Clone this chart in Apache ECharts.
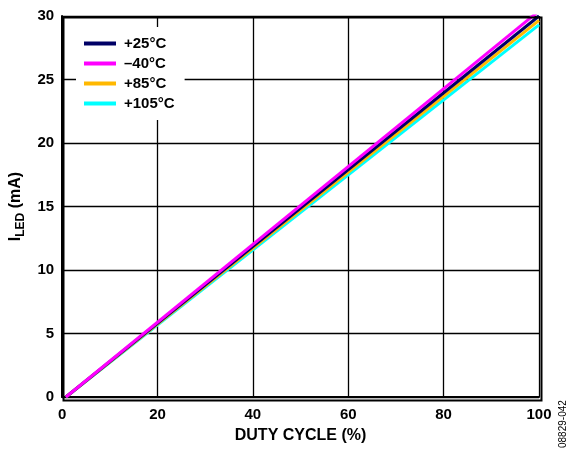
<!DOCTYPE html>
<html>
<head>
<meta charset="utf-8">
<script src="https://cdn.jsdelivr.net/npm/echarts@6/dist/echarts.min.js"></script>
<style>html,body{margin:0;padding:0;background:#fff}#c{width:569px;height:449px}</style>
</head>
<body>
<div id="c"></div>
<script>
var seriesNames = ['+105°C', '+85°C', '+25°C', '–40°C'];
var seriesColors = ['#00FFFF', '#FFB800', '#000066', '#FF00FF'];
var legendOrder = ['+25°C', '–40°C', '+85°C', '+105°C'];
var dutyCycle = [0.8, 100];
var iled105 = [0, 29.3];
var iled85 = [0, 29.65];
var iled25 = [0, 30.0];
var iledM40 = [0, 30.4];
var xTicks = [0, 20, 40, 60, 80, 100];
var yTicks = [0, 5, 10, 15, 20, 25, 30];

var allVals = [iled105, iled85, iled25, iledM40];
var font = 'Liberation Sans, Arial, Helvetica, sans-serif';
var chart = echarts.init(document.getElementById('c'));
var series = seriesNames.map(function (n, i) {
  return {
    name: n, type: 'line', symbol: 'none', clip: true,
    lineStyle: { color: seriesColors[i], width: 3 },
    itemStyle: { color: seriesColors[i] },
    data: dutyCycle.map(function (x, j) { return [x, allVals[i][j]]; })
  };
});
chart.setOption({
  animation: false,
  grid: { left: 61, right: 30, top: 16, bottom: 51 },
  legend: {
    data: legendOrder, orient: 'vertical', left: 76, top: 27,
    padding: [9, 10, 9, 8], backgroundColor: '#fff',
    icon: 'rect', itemWidth: 32, itemHeight: 4, itemGap: 5,
    textStyle: { fontFamily: font, fontWeight: 'bold', fontSize: 15, color: '#000', padding: [0, 0, 0, 3] }
  },
  xAxis: {
    type: 'value', min: 0, max: 100, interval: 20,
    name: 'DUTY CYCLE (%)', nameLocation: 'middle', nameGap: 31,
    nameTextStyle: { fontFamily: font, fontWeight: 'bold', fontSize: 16, color: '#000' },
    axisLine: { lineStyle: { color: '#000', width: 2 } },
    axisTick: { show: false },
    axisLabel: { fontFamily: font, fontWeight: 'bold', fontSize: 15, color: '#000', margin: 10 },
    splitLine: { show: true, lineStyle: { color: '#000', width: 1.3 } }
  },
  yAxis: {
    type: 'value', min: 0, max: 30, interval: 5,
    name: '{m|I}{s|LED}{m| (mA)}', nameLocation: 'middle', nameGap: 34, nameRotate: 90,
    nameTextStyle: { rich: {
      m: { fontFamily: font, fontWeight: 'bold', fontSize: 16, color: '#000' },
      s: { fontFamily: font, fontWeight: 'bold', fontSize: 12, color: '#000', verticalAlign: 'bottom', padding: [9, 0, 0, 0] }
    } },
    axisLine: { show: true, lineStyle: { color: '#000', width: 2 } },
    axisTick: { show: false },
    axisLabel: { fontFamily: font, fontWeight: 'bold', fontSize: 15, color: '#000', margin: 8 },
    splitLine: { show: true, lineStyle: { color: '#000', width: 1.3 } }
  },
  graphic: [
    { type: 'rect', left: 61, top: 15, shape: { width: 478, height: 383 }, style: { fill: 'none', stroke: '#000', lineWidth: 2 }, z: 10 },
    { type: 'text', x: 563, y: 448, rotation: Math.PI / 2, style: { text: '08829-042', fontFamily: font, fontSize: 10, fill: '#000', textAlign: 'left', textVerticalAlign: 'middle' } }
  ],
  series: series
});
</script>
</body>
</html>
